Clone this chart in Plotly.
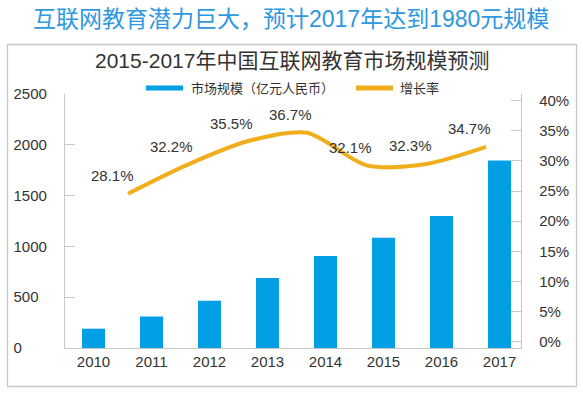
import plotly.graph_objects as go

# ---------------- data ----------------
years = ["2010", "2011", "2012", "2013", "2014", "2015", "2016", "2017"]
market_size = [190, 310, 465, 690, 905, 1085, 1300, 1845]          # 亿元人民币
rate_years = [2011, 2012, 2013, 2014, 2015, 2016, 2017]
growth_rate = [28.1, 32.2, 35.5, 36.7, 32.1, 32.3, 34.7]            # %
left_ticks = [0, 500, 1000, 1500, 2000, 2500]
right_ticks = [0, 5, 10, 15, 20, 25, 30, 35, 40]

main_title = "互联网教育潜力巨大，预计2017年达到1980元规模"
sub_title = "2015-2017年中国互联网教育市场规模预测"
bar_name = "市场规模（亿元人民币）"
line_name = "增长率"

# ---------------- styles ----------------
W, H = 583, 393
ML, MR, MT, MB = 65, 62, 94, 45
BLUE = "#039FE5"
ORANGE = "#F0AE1D"
GRAY = "#C8C8C8"
TXT = "#333333"
NUMFONT = "Liberation Sans, Arial, Noto Sans CJK SC"
CJKFONT = "Liberation Sans, Noto Sans CJK SC"

pw = W - ML - MR
ph = H - MT - MB


def px_x(px):
    return (px - ML) / pw


def px_y(py):
    return (H - MB - py) / ph


# left tick labels padded with no-break spaces so they read left-aligned
NBSP = "\u00a0"
maxlen = max(len(str(v)) for v in left_ticks)
left_ticktext = [str(v) + NBSP * (2 * (maxlen - len(str(v)))) for v in left_ticks]
right_ticktext = [f"{v}%" for v in right_ticks]

fig = go.Figure()

fig.add_trace(go.Bar(
    x=years, y=market_size, name=bar_name,
    marker=dict(color=BLUE, line=dict(width=0)),
    xaxis="x", yaxis="y", showlegend=False,
))

# invisible helper so the right-hand percentage axis is drawn
fig.add_trace(go.Scatter(
    x=[years[0]], y=[None], xaxis="x", yaxis="y2", mode="markers",
    showlegend=False, hoverinfo="skip", marker=dict(opacity=0),
))

fig.add_trace(go.Scatter(
    x=rate_years, y=growth_rate, name=line_name, mode="lines",
    line=dict(color=ORANGE, width=4, shape="spline", smoothing=0.8),
    xaxis="x2", yaxis="y3", showlegend=False,
))

annotations = []
for yr, v in zip(rate_years, growth_rate):
    annotations.append(dict(
        x=yr, y=v, xref="x2", yref="y3", text=f"{v:.1f}%",
        showarrow=False, xshift=-16, yshift=18,
        font=dict(family=NUMFONT, size=15, color=TXT),
    ))

# titles
annotations.append(dict(
    x=px_x(291), y=px_y(19), xref="paper", yref="paper", text=main_title,
    showarrow=False, xanchor="center", yanchor="middle",
    font=dict(family=CJKFONT, size=23, color="#2E98E0"),
))
annotations.append(dict(
    x=px_x(292), y=px_y(60), xref="paper", yref="paper", text=sub_title,
    showarrow=False, xanchor="center", yanchor="middle",
    font=dict(family=CJKFONT, size=21, color=TXT),
))
# legend text
annotations.append(dict(
    x=px_x(189), y=px_y(88), xref="paper", yref="paper", text=bar_name,
    showarrow=False, xanchor="left", yanchor="middle",
    font=dict(family=CJKFONT, size=13, color=TXT),
))
annotations.append(dict(
    x=px_x(398), y=px_y(88), xref="paper", yref="paper", text=line_name,
    showarrow=False, xanchor="left", yanchor="middle",
    font=dict(family=CJKFONT, size=13, color=TXT),
))

shapes = [
    # outer frame
    dict(type="rect", xref="paper", yref="paper",
         x0=px_x(7.5), x1=px_x(576.5), y0=px_y(386.5), y1=px_y(44.5),
         line=dict(color=GRAY, width=1.3), fillcolor="rgba(0,0,0,0)", layer="above"),
    # legend swatches
    dict(type="rect", xref="paper", yref="paper",
         x0=px_x(146), x1=px_x(183), y0=px_y(90.5), y1=px_y(85.5),
         line=dict(width=0), fillcolor=BLUE),
    dict(type="rect", xref="paper", yref="paper",
         x0=px_x(356), x1=px_x(393), y0=px_y(90.5), y1=px_y(85.5),
         line=dict(width=0), fillcolor=ORANGE),
]

cat_range = [-0.491, 7.37]
year_range = [2009.944, 2017.587]

fig.update_layout(
    width=W, height=H,
    margin=dict(l=ML, r=MR, t=MT, b=MB, pad=0),
    paper_bgcolor="white", plot_bgcolor="rgba(0,0,0,0)",
    bargap=0.603,
    showlegend=False,
    annotations=annotations,
    shapes=shapes,
    xaxis=dict(
        type="category", range=cat_range,
        showline=True, linecolor=GRAY, linewidth=1.3,
        ticks="", showgrid=False, zeroline=False,
        tickfont=dict(family=NUMFONT, size=15, color=TXT),
    ),
    xaxis2=dict(
        overlaying="x", type="linear", range=year_range,
        visible=False, showgrid=False, zeroline=False,
    ),
    yaxis=dict(
        range=[0, 2500], side="left",
        tickvals=left_ticks, ticktext=left_ticktext,
        showline=True, linecolor=GRAY, linewidth=1.3,
        ticks="inside", ticklen=10, tickcolor=GRAY, tickwidth=1.3,
        ticklabelstandoff=14,
        showgrid=False, zeroline=False,
        tickfont=dict(family=NUMFONT, size=15, color=TXT),
    ),
    yaxis2=dict(
        overlaying="y", range=[-1.04, 41.11], anchor="x", side="right",
        tickvals=right_ticks, ticktext=right_ticktext,
        showline=True, linecolor=GRAY, linewidth=1.3,
        ticks="inside", ticklen=10, tickcolor=GRAY, tickwidth=1.3,
        ticklabelstandoff=14,
        showgrid=False, zeroline=False,
        tickfont=dict(family=NUMFONT, size=15, color=TXT),
    ),
    yaxis3=dict(
        overlaying="y", range=[6.34, 42.17], visible=False,
        showgrid=False, zeroline=False,
    ),
)

fig.write_html(
    "out.html",
    config={"displayModeBar": False},
    post_script="document.body.style.margin='0';document.body.style.padding='0';",
)
